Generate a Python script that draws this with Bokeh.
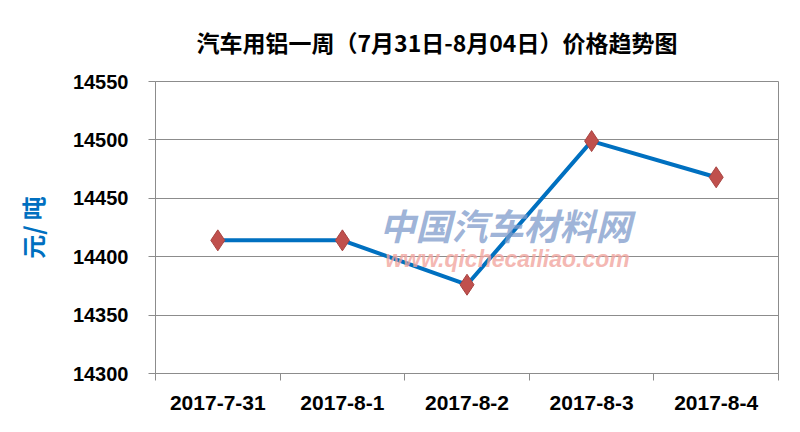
from bokeh.plotting import figure
from bokeh.models import FixedTicker, Range1d, Label, ColumnDataSource
from bokeh.embed import file_html
from bokeh.resources import INLINE

title_text = "汽车用铝一周（7月31日-8月04日）价格趋势图"
categories = ["2017-7-31", "2017-8-1", "2017-8-2", "2017-8-3", "2017-8-4"]
prices = [14414, 14414, 14376, 14499, 14468]
y_ticks = [14300, 14350, 14400, 14450, 14500, 14550]
y_label = "元/ 吨"

xs = [i + 0.5 for i in range(len(categories))]
src = ColumnDataSource(dict(x=xs, y=prices, cat=categories))

p = figure(width=784, height=416, output_backend="svg", toolbar_location=None,
           x_range=Range1d(0, len(categories)), y_range=Range1d(y_ticks[0], y_ticks[-1]),
           min_border_left=155, min_border_right=6, min_border_top=80, min_border_bottom=43)
p.background_fill_color = "white"
p.border_fill_color = "white"
p.outline_line_color = "#8C8C8C"
p.outline_line_width = 1

# title
p.title.text = title_text
p.title.text_font = "Noto Sans CJK SC"
p.title.text_font_style = "bold"
p.title.text_font_size = "23px"
p.title.text_color = "black"
p.title.align = "left"
p.title.offset = 41
p.title.standoff = 45

# grid
p.xgrid.grid_line_color = None
p.ygrid.grid_line_color = "#8C8C8C"
p.ygrid.grid_line_width = 1

# y axis
p.yaxis.ticker = FixedTicker(ticks=y_ticks)
p.yaxis.axis_line_color = "#8C8C8C"
p.yaxis.major_tick_line_color = "#8C8C8C"
p.yaxis.major_tick_out = 7
p.yaxis.major_tick_in = 0
p.yaxis.minor_tick_line_color = None
p.yaxis.major_label_text_font = "Liberation Sans"
p.yaxis.major_label_text_font_style = "bold"
p.yaxis.major_label_text_font_size = "20px"
p.yaxis.major_label_text_color = "black"
p.yaxis.major_label_standoff = 20
p.yaxis.axis_label = y_label
p.yaxis.axis_label_text_font = "Noto Sans CJK SC"
p.yaxis.axis_label_text_font_style = "bold"
p.yaxis.axis_label_text_font_size = "24px"
p.yaxis.axis_label_text_color = "#0070C0"
p.yaxis.axis_label_standoff = 20

# x axis: labels at category centres, ticks at boundaries
p.xaxis.ticker = FixedTicker(ticks=xs, minor_ticks=list(range(len(categories) + 1)))
p.xaxis.major_label_overrides = {x: c for x, c in zip(xs, categories)}
p.xaxis.axis_line_color = "#8C8C8C"
p.xaxis.major_tick_line_color = None
p.xaxis.minor_tick_line_color = "#8C8C8C"
p.xaxis.minor_tick_out = 7
p.xaxis.minor_tick_in = 0
p.xaxis.major_tick_out = 7
p.xaxis.major_label_text_font = "Liberation Sans"
p.xaxis.major_label_text_font_style = "bold"
p.xaxis.major_label_text_font_size = "21px"
p.xaxis.major_label_text_color = "black"
p.xaxis.major_label_standoff = 15

# watermark text (faint)
p.add_layout(Label(x=350, y=150, x_units="screen", y_units="screen", text="中国汽车材料网",
                   text_font="Noto Sans CJK SC", text_font_style="bold italic",
                   text_font_size="36px", text_color="#7F9CCB", text_alpha=0.75,
                   text_align="center", text_baseline="middle"))
p.add_layout(Label(x=352, y=115, x_units="screen", y_units="screen", text="www.qichecailiao.com",
                   text_font="Liberation Sans", text_font_style="bold italic",
                   text_font_size="23px", text_color="#F2A59E", text_alpha=0.8,
                   text_align="center", text_baseline="middle"))

# series
p.line("x", "y", source=src, line_color="#0070C0", line_width=4)
p.scatter("x", "y", source=src, marker="diamond", size=21, fill_color="#C0504D",
          line_color="#A84542", line_width=1)

open("out.html", "w").write(file_html(p, INLINE))
